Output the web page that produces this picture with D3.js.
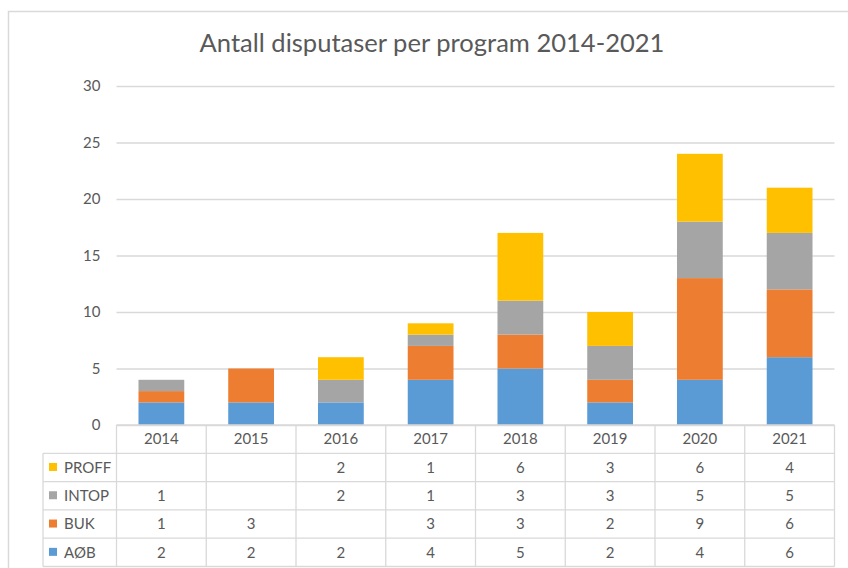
<!DOCTYPE html>
<html><head><meta charset="utf-8">
<script src="https://cdn.jsdelivr.net/npm/d3@7"></script>
<style>body{margin:0;background:#fff}svg{display:block}</style>
</head><body>
<svg id="c" width="848" height="568"></svg>
<script>
const categories = ["2014","2015","2016","2017","2018","2019","2020","2021"];
const seriesNames = ["AØB","BUK","INTOP","PROFF"];
const AOB   = [2,2,2,4,5,2,4,6];
const BUK   = [1,3,0,3,3,2,9,6];
const INTOP = [1,0,2,1,3,3,5,5];
const PROFF = [0,0,2,1,6,3,6,4];
const colors = ["#5B9BD5","#ED7D31","#A5A5A5","#FFC000"];
const yTicks = [0,5,10,15,20,25,30];
const title = "Antall disputaser per program 2014-2021";

const values = [AOB,BUK,INTOP,PROFF];
const rows = categories.map((c,i)=>{const o={cat:c}; seriesNames.forEach((s,k)=>o[s]=values[k][i]); return o;});
const stack = d3.stack().keys(seriesNames)(rows);

const svg = d3.select("#c");
const font = "Lato, 'Open Sans', sans-serif";
const textCol = "#595959", lineCol = "#d9d9d9";

// outer border
svg.append("rect").attr("x",8.5).attr("y",11.5).attr("width",900).attr("height",700)
  .attr("fill","#fff").attr("stroke",lineCol).attr("stroke-width",1.5);

const x = d3.scaleBand().domain(categories).range([116.5,834.5]).paddingInner(0.49).paddingOuter(0.245);
const xb = d3.scaleBand().domain(categories).range([116.5,834.5]);
const y = d3.scaleLinear().domain([0,30]).range([425,86]);

// title
const t = svg.append("text").attr("x",432).attr("y",52).attr("text-anchor","middle")
  .attr("font-family",font).attr("font-size",22).attr("fill",textCol).text(title);
const tw = t.node().getComputedTextLength();
t.attr("font-size",22*465/tw);

// gridlines
const yAxis = d3.axisLeft(y).tickValues(yTicks).tickSize(-(834.5-116.5)).tickPadding(16);
const ga = svg.append("g").attr("transform","translate(116.5,0)").call(yAxis);
ga.select(".domain").remove();
ga.selectAll(".tick line").attr("stroke",lineCol).attr("stroke-width",1.3);
ga.selectAll(".tick text").attr("font-family",font).attr("font-size",15).attr("fill",textCol);

// bars
svg.append("g").selectAll("g").data(stack).join("g").attr("fill",(d,i)=>colors[i])
  .selectAll("rect").data(d=>d).join("rect")
  .attr("x",d=>x(d.data.cat)).attr("width",x.bandwidth())
  .attr("y",d=>y(d[1])).attr("height",d=>y(d[0])-y(d[1]));

// data table
const tTop = 425, rh = 28.3, tLeft = 43;
const tg = svg.append("g");
const tableRows = seriesNames.slice().reverse();
const nRows = tableRows.length;
for(let r=0;r<=nRows+1;r++){
  const yy = tTop + r*rh;
  tg.append("line").attr("x1", r===0?116.5:tLeft).attr("x2",834.5).attr("y1",yy).attr("y2",yy)
    .attr("stroke",lineCol).attr("stroke-width",1.3);
}
tg.append("line").attr("x1",tLeft).attr("x2",tLeft).attr("y1",tTop+rh).attr("y2",tTop+(nRows+1)*rh).attr("stroke",lineCol).attr("stroke-width",1.3);
categories.forEach(c=>{
  tg.append("line").attr("x1",xb(c)).attr("x2",xb(c)).attr("y1",tTop).attr("y2",tTop+(nRows+1)*rh).attr("stroke",lineCol).attr("stroke-width",1.3);
});
tg.append("line").attr("x1",834.5).attr("x2",834.5).attr("y1",tTop).attr("y2",tTop+(nRows+1)*rh).attr("stroke",lineCol).attr("stroke-width",1.3);
tg.selectAll("text.h").data(categories).join("text").attr("class","h")
  .attr("x",c=>xb(c)+xb.bandwidth()/2).attr("y",tTop+rh/2+5.3).attr("text-anchor","middle")
  .attr("font-family",font).attr("font-size",15).attr("fill",textCol).text(c=>c);
tableRows.forEach((s,r)=>{
  const k = seriesNames.indexOf(s);
  const yy = tTop+(r+1)*rh;
  tg.append("rect").attr("x",49).attr("y",yy+rh/2-4.5).attr("width",8).attr("height",8).attr("fill",colors[k]);
  tg.append("text").attr("x",64).attr("y",yy+rh/2+5.3).attr("font-family",font).attr("font-size",15).attr("fill",textCol).text(s);
  categories.forEach((c,i)=>{
    const v = values[k][i];
    if(v) tg.append("text").attr("x",xb(c)+xb.bandwidth()/2).attr("y",yy+rh/2+5.3).attr("text-anchor","middle")
      .attr("font-family",font).attr("font-size",15).attr("fill",textCol).text(v);
  });
});
</script>
</body></html>
